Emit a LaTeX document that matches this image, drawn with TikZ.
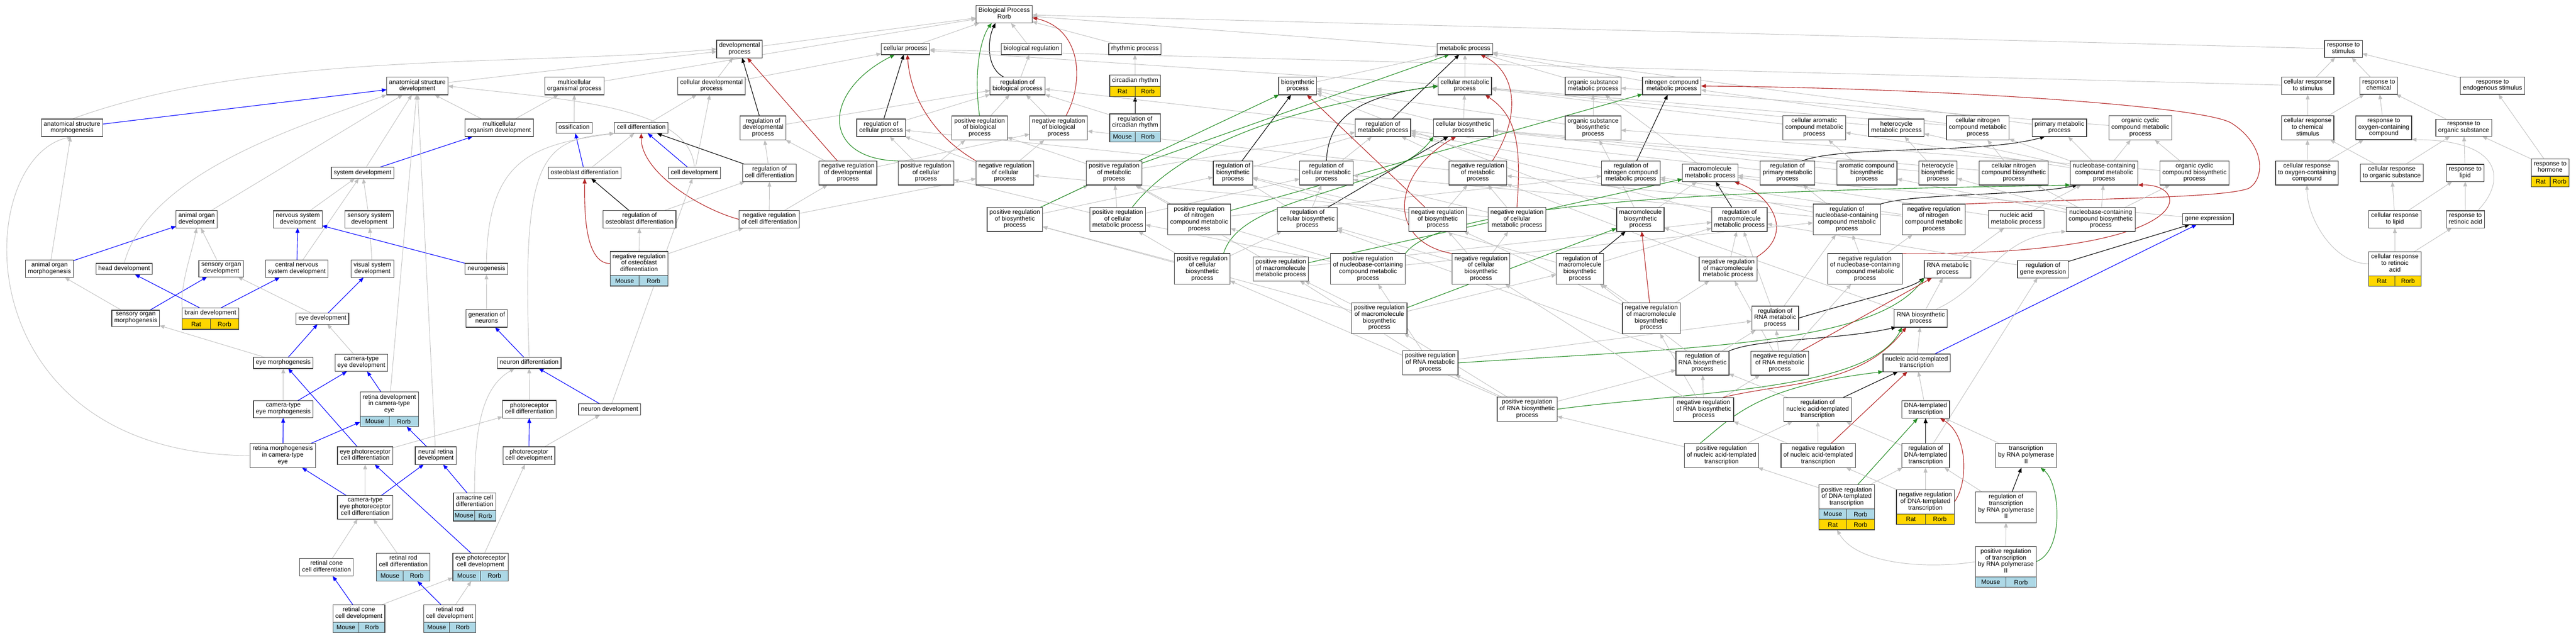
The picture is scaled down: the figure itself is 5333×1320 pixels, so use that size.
\documentclass[tikz,border=0pt]{standalone}
\usepackage{fontspec}
\setmainfont{Liberation Sans}
\usetikzlibrary{arrows.meta,calc,fit}
\pgfdeclarelayer{edges}
\pgfsetlayers{edges,main}
\definecolor{isagray}{RGB}{191,191,191}
\definecolor{partblue}{RGB}{0,0,255}
\definecolor{negred}{RGB}{178,34,34}
\definecolor{posgreen}{RGB}{34,139,34}
\definecolor{ratgold}{RGB}{255,215,0}
\definecolor{mouseblue}{RGB}{173,216,230}
\newcommand{\termfont}{\fontsize{13}{13.5}\selectfont}
\tikzset{
    term box/.style={rectangle, draw=black!75, line width=1.3pt, fill=white, align=center,
        inner xsep=5pt, inner ysep=4.75pt, outer sep=0pt, font=\termfont,
        execute at begin node=\strut, execute at end node=\strut},
    species cell/.style={draw=black!75, line width=1.3pt},
    species text/.style={font=\termfont, inner sep=0pt},
    is a/.style={->, draw=isagray, line width=1pt},
    part of/.style={->, draw=partblue, line width=1.2pt},
    regulates/.style={->, draw=black, line width=1.2pt},
    neg regulates/.style={->, draw=negred, line width=1.2pt},
    pos regulates/.style={->, draw=posgreen, line width=1.2pt}
}
% species row under a term: node, colour, left, right, row
\newcommand{\tagrow}[5]{%
    \draw[species cell, fill=#2] ($(#1.south west)+(0,{(#5-1)*21.5})$) rectangle ($(#1.south)+(0,{#5*21.5})$);
    \draw[species cell, fill=#2] ($(#1.south)+(0,{(#5-1)*21.5})$) rectangle ($(#1.south east)+(0,{#5*21.5})$);
    \node[species text] (#1-l#5) at ($(#1.south west)!0.5!(#1.south)+(0,{(#5-0.5)*21.5})$) {#3};
    \node[species text] (#1-r#5) at ($(#1.south)!0.5!(#1.south east)+(0,{(#5-0.5)*21.5})$) {#4};
    \coordinate (#1-end) at ($(#1.south east)+(0,{#5*21.5})$);
    \node[fit=(#1)(#1-end), inner sep=0pt] (#1-all) {};
}
\begin{document}
\begin{tikzpicture}[x=1pt, y=-1pt, >={Triangle[length=10pt,width=8pt]}]
\useasboundingbox (0,0) rectangle (5333,1320);
\begin{scope}[every node/.style={term box}]
\node (bp) at (2079,29.5) {Biological Process\\Rorb};
\node (devproc) at (1531,101.5) {developmental\\process};
\node (cellproc) at (1874.5,101.5) {cellular process};
\node (bioreg) at (2135,101.5) {biological regulation};
\node (rhythm) at (2349.5,101.5) {rhythmic process};
\node (metproc) at (3033,101.5) {metabolic process};
\node (respstim) at (4851.5,101.5) {response to\\stimulus};

\node (ASD) at (864,178) {anatomical structure\\development};
\node (multiorgproc) at (1189,178) {multicellular\\organismal process};
\node (celldevproc) at (1473,178) {cellular developmental\\process};
\node (regbioproc) at (2106.5,178) {regulation of\\biological process};
\node (circ) at (2350,167) {circadian rhythm};
\node (biosyn) at (2686.5,178) {biosynthetic\\process};
\node (cellmet) at (3032.5,178) {cellular metabolic\\process};
\node (orgsubmet) at (3298,178) {organic substance\\metabolic process};
\node (nitromet) at (3461,178) {nitrogen compound\\metabolic process};
\node (cellrespstim) at (4777.5,177.5) {cellular response\\to stimulus};
\node (respchem) at (4924.5,177.5) {response to\\chemical};
\node (respendo) at (5160,177.5) {response to\\endogenous stimulus};

\node (ASM) at (149,264.5) {anatomical structure\\morphogenesis};
\node (multidev) at (1033.5,264.5) {multicellular\\organism development};
\node (ossif) at (1188.5,264.5) {ossification};
\node (celldiff) at (1327.5,264.5) {cell differentiation};
\node (regdevproc) at (1579.5,265) {regulation of\\developmental\\process};
\node (regcellproc) at (1824,264.5) {regulation of\\cellular process};
\node (posregbioproc) at (2028,265) {positive regulation\\of biological\\process};
\node (negregbioproc) at (2191.5,265) {negative regulation\\of biological\\process};
\node (regcirc) at (2350,254) {regulation of\\circadian rhythm};
\node (regmet) at (2863,264.5) {regulation of\\metabolic process};
\node (cellbiosyn) at (3029.5,264.5) {cellular biosynthetic\\process};
\node (orgsubbiosyn) at (3298,265) {organic substance\\biosynthetic\\process};
\node (cellarom) at (3756,264.5) {cellular aromatic\\compound metabolic\\process};
\node (hetmet) at (3926,264.5) {heterocycle\\metabolic process};
\node (cellnitro) at (4094.5,264.5) {cellular nitrogen\\compound metabolic\\process};
\node (primmet) at (4263.5,264.5) {primary metabolic\\process};
\node (orgcyc) at (4431,264.5) {organic cyclic\\compound metabolic\\process};
\node (cellrespchem) at (4777.5,264.5) {cellular response\\to chemical\\stimulus};
\node (respoxy) at (4935,264.5) {response to\\oxygen-containing\\compound};
\node (resporg) at (5100.5,264.5) {response to\\organic substance};

\node (sysdev) at (750.5,358) {system development};
\node (osteodiff) at (1210.5,358) {osteoblast differentiation};
\node (celldev) at (1437.5,358) {cell development};
\node (regcelldiff) at (1593,358) {regulation of\\cell differentiation};
\node (negregdevproc) at (1755.5,358) {negative regulation\\of developmental\\process};
\node (posregcellproc) at (1917,358) {positive regulation\\of cellular\\process};
\node (negregcellproc) at (2080.5,358) {negative regulation\\of cellular\\process};
\node (posregmet) at (2306.5,358) {positive regulation\\of metabolic\\process};
\node (regbiosyn) at (2552.5,358) {regulation of\\biosynthetic\\process};
\node (regcellmet) at (2746,358) {regulation of\\cellular metabolic\\process};
\node (negregmet) at (3059.5,358) {negative regulation\\of metabolic\\process};
\node (regnitro) at (3376.5,358) {regulation of\\nitrogen compound\\metabolic process};
\node (macromet) at (3540.5,358) {macromolecule\\metabolic process};
\node (regprim) at (3700.5,358) {regulation of\\primary metabolic\\process};
\node (aromhbiosyn) at (3865,358) {aromatic compound\\biosynthetic\\process};
\node (hetbiosyn) at (4012,358) {heterocycle\\biosynthetic\\process};
\node (cellnitrobiosyn) at (4169,358) {cellular nitrogen\\compound biosynthetic\\process};
\node (nucleomet) at (4356,358) {nucleobase-containing\\compound metabolic\\process};
\node (orgcycbiosyn) at (4543,358) {organic cyclic\\compound biosynthetic\\process};
\node (cellrespoxy) at (4776,358) {cellular response\\to oxygen-containing\\compound};
\node (cellresporg) at (4951.5,358) {cellular response\\to organic substance};
\node (resplipid) at (5103.5,358) {response to\\lipid};
\node (resphormone) at (5279.5,347) {response to\\hormone};

\node (aod) at (407,454) {animal organ\\development};
\node (nsd) at (616.5,454) {nervous system\\development};
\node (ssd) at (764.5,454) {sensory system\\development};
\node (regosteo) at (1324,454) {regulation of\\osteoblast differentiation};
\node (negregcelldiff) at (1592.5,454) {negative regulation\\of cell differentiation};
\node (posregbiosyn) at (2101,454) {positive regulation\\of biosynthetic\\process};
\node (posregcellmet) at (2314,454) {positive regulation\\of cellular\\metabolic process};
\node (posregnitro) at (2482.5,454) {positive regulation\\of nitrogen\\compound metabolic\\process};
\node (regcellbiosyn) at (2706.5,454) {regulation of\\cellular biosynthetic\\process};
\node (negregbiosyn) at (2976.5,454) {negative regulation\\of biosynthetic\\process};
\node (negregcellmet) at (3140.5,454) {negative regulation\\of cellular\\metabolic process};
\node (macrobiosyn) at (3396,454) {macromolecule\\biosynthetic\\process};
\node (regmacromet) at (3601,454) {regulation of\\macromolecule\\metabolic process};
\node (regnucleo) at (3823.5,454) {regulation of\\nucleobase-containing\\compound metabolic\\process};
\node (negregnitro) at (4003.5,454) {negative regulation\\of nitrogen\\compound metabolic\\process};
\node (nucacidmet) at (4174,454) {nucleic acid\\metabolic process};
\node (nucleobiosyn) at (4349,454) {nucleobase-containing\\compound biosynthetic\\process};
\node (geneexp) at (4571,453.5) {gene expression};
\node (cellresplipid) at (4958,454) {cellular response\\to lipid};
\node (respretin) at (5104,454) {response to\\retinoic acid};

\node (aom) at (102.5,556) {animal organ\\morphogenesis};
\node (headdev) at (257,556.5) {head development};
\node (sod) at (458,556) {sensory organ\\development};
\node (cnsd) at (614.5,556) {central nervous\\system development};
\node (vsd) at (771,556) {visual system\\development};
\node (neurogen) at (1007,556.5) {neurogenesis};
\node (negregosteo) at (1323,545.5) {negative regulation\\of osteoblast\\differentiation};
\node (posregcellbiosyn) at (2489,556.5) {positive regulation\\of cellular\\biosynthetic\\process};
\node (posregmacromet) at (2651.5,556.5) {positive regulation\\of macromolecule\\metabolic process};
\node (posregnucleo) at (2832,556.5) {positive regulation\\of nucleobase-containing\\compound metabolic\\process};
\node (negregcellbiosyn) at (3066,556.5) {negative regulation\\of cellular\\biosynthetic\\process};
\node (regmacrobiosyn) at (3271,556.5) {regulation of\\macromolecule\\biosynthetic\\process};
\node (negregmacromet) at (3577.5,556.5) {negative regulation\\of macromolecule\\metabolic process};
\node (negregnucleo) at (3861,556.5) {negative regulation\\of nucleobase-containing\\compound metabolic\\process};
\node (RNAmet) at (4032,557) {RNA metabolic\\process};
\node (reggeneexp) at (4229.5,557) {regulation of\\gene expression};
\node (cellrespretin) at (4958,546) {cellular response\\to retinoic\\acid};

\node (som) at (281,659) {sensory organ\\morphogenesis};
\node (brain) at (435.5,648.5) {brain development};
\node (eyedev) at (667.5,659.5) {eye development};
\node (genneur) at (1007.5,659) {generation of\\neurons};
\node (posregmacrobiosyn) at (2855.5,658.5) {positive regulation\\of macromolecule\\biosynthetic\\process};
\node (negregmacrobiosyn) at (3418.5,658.5) {negative regulation\\of macromolecule\\biosynthetic\\process};
\node (regRNAmet) at (3675,658.5) {regulation of\\RNA metabolic\\process};
\node (RNAbiosyn) at (3976.5,659) {RNA biosynthetic\\process};

\node (eyemorph) at (586.5,751) {eye morphogenesis};
\node (cteyedev) at (748,751) {camera-type\\eye development};
\node (neurdiff) at (1095.5,751) {neuron differentiation};
\node (posregRNAmet) at (2961,751) {positive regulation\\of RNA metabolic\\process};
\node (regRNAbiosyn) at (3524.5,751.5) {regulation of\\RNA biosynthetic\\process};
\node (negregRNAmet) at (3684.5,751.5) {negative regulation\\of RNA metabolic\\process};
\node (nucacidtrans) at (3968,751) {nucleic acid-templated\\transcription};

\node (retdev) at (806,836.5) {retina development\\in camera-type\\eye};
\node (cteyemorph) at (586.5,847) {camera-type\\eye morphogenesis};
\node (photodiff) at (1096,847) {photoreceptor\\cell differentiation};
\node (neurdev) at (1262,847.5) {neuron development};
\node (posregRNAbiosyn) at (3161.5,847) {positive regulation\\of RNA biosynthetic\\process};
\node (negregRNAbiosyn) at (3527,847.5) {negative regulation\\of RNA biosynthetic\\process};
\node (regnucacid) at (3763,847.5) {regulation of\\nucleic acid-templated\\transcription};
\node (DNAtrans) at (3986.5,847.5) {DNA-templated\\transcription};

\node (retmorph) at (585.5,943) {retina morphogenesis\\in camera-type\\eye};
\node (eyephotodiff) at (756,943) {eye photoreceptor\\cell differentiation};
\node (neuralret) at (902,943) {neural retina\\development};
\node (photodev) at (1095,943) {photoreceptor\\cell development};
\node (posregnucacid) at (3564,943) {positive regulation\\of nucleic acid-templated\\transcription};
\node (negregnucacid) at (3764,943) {negative regulation\\of nucleic acid-templated\\transcription};
\node (regDNAtrans) at (3986.5,943) {regulation of\\DNA-templated\\transcription};
\node (transpol) at (4194.5,943) {transcription\\by RNA polymerase\\II};

\node (amacrine) at (982.5,1038.5) {amacrine cell\\differentiation};
\node (cteyephotodiff) at (756,1050) {camera-type\\eye photoreceptor\\cell differentiation};
\node (posregDNAtrans) at (3823,1028.5) {positive regulation\\of DNA-templated\\transcription};
\node (negregDNAtrans) at (3986,1039) {negative regulation\\of DNA-templated\\transcription};
\node (regtranspol) at (4153,1050) {regulation of\\transcription\\by RNA polymerase\\II};

\node (rconediff) at (676,1174) {retinal cone\\cell differentiation};
\node (rroddiff) at (835,1163) {retinal rod\\cell differentiation};
\node (eyephotodev) at (995,1163) {eye photoreceptor\\cell development};
\node (posregtranspol) at (4152.5,1162.5) {positive regulation\\of transcription\\by RNA polymerase\\II};

\node (rconedev) at (743,1269.5) {retinal cone\\cell development};
\node (rroddev) at (931,1269.5) {retinal rod\\cell development};
\end{scope}

\tagrow{brain}{ratgold}{Rat}{Rorb}{1}
\tagrow{circ}{ratgold}{Rat}{Rorb}{1}
\tagrow{regcirc}{mouseblue}{Mouse}{Rorb}{1}
\tagrow{negregosteo}{mouseblue}{Mouse}{Rorb}{1}
\tagrow{resphormone}{ratgold}{Rat}{Rorb}{1}
\tagrow{cellrespretin}{ratgold}{Rat}{Rorb}{1}
\tagrow{retdev}{mouseblue}{Mouse}{Rorb}{1}
\tagrow{amacrine}{mouseblue}{Mouse}{Rorb}{1}
\tagrow{posregDNAtrans}{mouseblue}{Mouse}{Rorb}{1}
\tagrow{posregDNAtrans}{ratgold}{Rat}{Rorb}{2}
\tagrow{negregDNAtrans}{ratgold}{Rat}{Rorb}{1}
\tagrow{rroddiff}{mouseblue}{Mouse}{Rorb}{1}
\tagrow{eyephotodev}{mouseblue}{Mouse}{Rorb}{1}
\tagrow{posregtranspol}{mouseblue}{Mouse}{Rorb}{1}
\tagrow{rconedev}{mouseblue}{Mouse}{Rorb}{1}
\tagrow{rroddev}{mouseblue}{Mouse}{Rorb}{1}

\begin{pgfonlayer}{edges}
% upper levels
\path (devproc) edge[is a] (bp);
\path (cellproc) edge[is a] (bp);
\path (bioreg) edge[is a] (bp);
\path (rhythm) edge[is a] (bp);
\path (metproc) edge[is a] (bp);
\path (respstim) edge[is a] (bp);
\path (multiorgproc) edge[is a] (bp);
\path (ASD) edge[is a] (devproc);
\path (celldevproc) edge[is a] (devproc) edge[is a] (cellproc);
\path (regbioproc) edge[is a] (bioreg);
\draw[regulates] ($(regbioproc.north)+(-28,0)$) .. controls (2040,140) and (2045,80) .. ($(bp.south)+(-18,0)$);
\path (circ) edge[is a] (rhythm);
\path (biosyn) edge[is a] (metproc);
\path (cellmet) edge[is a] (metproc) edge[is a] (cellproc);
\path (orgsubmet) edge[is a] (metproc);
\path (nitromet) edge[is a] (metproc);
\path (cellrespstim) edge[is a] (respstim) edge[is a] (cellproc);
\path (respchem) edge[is a] (respstim);
\path (respendo) edge[is a] (respstim);

\path (ASM) edge[part of] (ASD);
\draw[is a] (ASM.north) .. controls (539,104) and (1071,138) .. (devproc.west);
\path (multidev) edge[is a] (ASD) edge[is a] (multiorgproc);
\path (ossif) edge[is a] (multiorgproc);
\path (celldiff) edge[is a] (celldevproc);
\path (regdevproc) edge[is a] (regbioproc) edge[regulates] (devproc);
\path (regcellproc) edge[is a] (regbioproc) edge[regulates] (cellproc);
\path (posregbioproc) edge[is a] (regbioproc);
\draw[pos regulates] (posregbioproc.north) .. controls (2015,150) and (2030,80) .. ($(bp.south)+(-26,0)$);
\path (negregbioproc) edge[is a] (regbioproc);
\draw[neg regulates] ($(negregbioproc.north)+(15,0)$) .. controls (2245,170) and (2240,60) .. ($(bp.east)+(0,7)$);
\path (regcirc) edge[is a] (regbioproc) edge[regulates] (circ-all);
\path (regmet) edge[is a] (regbioproc) edge[regulates] (metproc);
\path (cellbiosyn) edge[is a] (cellmet) edge[is a] (biosyn);
\path (orgsubbiosyn) edge[is a] (orgsubmet) edge[is a] (biosyn);
\path (cellarom) edge[is a] (cellmet);
\path (hetmet) edge[is a] (cellmet);
\path (cellnitro) edge[is a] (cellmet) edge[is a] (nitromet);
\path (primmet) edge[is a] (metproc);
\path (orgcyc) edge[is a] (orgsubmet);
\path (cellrespchem) edge[is a] (cellrespstim) edge[is a] (respchem);
\path (respoxy) edge[is a] (respchem);
\path (resporg) edge[is a] (respchem);

\path (sysdev) edge[is a] (ASD) edge[part of] (multidev);
\path (osteodiff) edge[is a] (celldiff) edge[part of] (ossif);
\path (celldev) edge[is a] (celldevproc) edge[part of] (celldiff);
\draw[is a] (celldev.north) .. controls (1430,215) and (1150,205) .. (ASD.east);
\path (regcelldiff) edge[is a] (regdevproc) edge[regulates] (celldiff);
\path (negregdevproc) edge[is a] (regdevproc) edge[is a] (negregbioproc) edge[neg regulates] (devproc);
\path (posregcellproc) edge[is a] (regcellproc) edge[is a] (posregbioproc);
\draw[pos regulates] (posregcellproc.north west) .. controls (1700,330) and (1700,190) .. ($(cellproc.south)+(-22,0)$);
\path (negregcellproc) edge[is a] (regcellproc) edge[is a] (negregbioproc);
\draw[neg regulates] (negregcellproc.north west) .. controls (1930,280) and (1885,200) .. ($(cellproc.south)+(4,0)$);
\path (posregmet) edge[is a] (regmet) edge[is a] (posregbioproc) edge[pos regulates] (metproc);
\path (regbiosyn) edge[is a] (regmet) edge[regulates] (biosyn);
\path (regcellmet) edge[is a] (regmet) edge[is a] (regcellproc);
\draw[regulates] (regcellmet.north) .. controls (2750,250) and (2800,200) .. (cellmet.west);
\path (negregmet) edge[is a] (regmet) edge[is a] (negregbioproc);
\draw[neg regulates] ($(negregmet.north)+(30,0)$) .. controls (3150,240) and (3140,150) .. ($(metproc.south)+(32,0)$);
\path (regnitro) edge[is a] (regmet) edge[regulates] (nitromet);
\path (macromet) edge[is a] (orgsubmet);
\path (regprim) edge[is a] (regmet);
\draw[regulates] ($(regprim.north)+(30,0)$) .. controls (3820,300) and (4100,320) .. ($(primmet.south)+(-30,0)$);
\path (aromhbiosyn) edge[is a] (cellarom) edge[is a] (cellbiosyn);
\path (hetbiosyn) edge[is a] (hetmet) edge[is a] (cellbiosyn);
\path (cellnitrobiosyn) edge[is a] (cellnitro) edge[is a] (cellbiosyn);
\path (nucleomet) edge[is a] (hetmet) edge[is a] (cellarom) edge[is a] (cellnitro) edge[is a] (primmet) edge[is a] (orgcyc);
\path (orgcycbiosyn) edge[is a] (orgcyc) edge[is a] (orgsubbiosyn);
\path (cellrespoxy) edge[is a] (cellrespchem) edge[is a] (respoxy);
\path (cellresporg) edge[is a] (cellrespchem) edge[is a] (resporg);
\path (resplipid) edge[is a] (resporg);
\path (resphormone) edge[is a] (respendo) edge[is a] (resporg);

\path (aod) edge[is a] (ASD);
\path (nsd) edge[is a] (sysdev);
\path (ssd) edge[is a] (sysdev);
\path (regosteo) edge[is a] (regcelldiff) edge[regulates] (osteodiff);
\path (negregcelldiff) edge[is a] (regcelldiff) edge[is a] (negregdevproc) edge[is a] (negregcellproc);
\draw[neg regulates] (negregcelldiff.west) .. controls (1451,433) and (1327,357) .. (celldiff.south);
\path (posregbiosyn) edge[is a] (regbiosyn) edge[is a] (posregmet) edge[pos regulates] (biosyn);
\path (posregcellmet) edge[is a] (posregmet) edge[is a] (regcellmet) edge[is a] (posregcellproc);
\draw[pos regulates] ($(posregcellmet.north)+(30,0)$) .. controls (2420,330) and (2600,230) .. (cellmet.west);
\path (posregnitro) edge[is a] (posregmet) edge[is a] (regnitro) edge[pos regulates] (nitromet);
\path (regcellbiosyn) edge[is a] (regbiosyn) edge[is a] (regcellmet) edge[regulates] (cellbiosyn);
\path (negregbiosyn) edge[is a] (regbiosyn) edge[is a] (negregmet) edge[neg regulates] (biosyn);
\path (negregcellmet) edge[is a] (negregmet) edge[is a] (regcellmet) edge[is a] (negregcellproc);
\draw[neg regulates] (negregcellmet.north) .. controls (3150,300) and (3140,240) .. ($(cellmet.south)+(42,0)$);
\path (macrobiosyn) edge[is a] (macromet) edge[is a] (biosyn) edge[is a] (orgsubbiosyn);
\path (regmacromet) edge[is a] (regmet) edge[regulates] (macromet);
\path (regnucleo) edge[is a] (regcellmet) edge[is a] (regnitro) edge[is a] (regprim);
\draw[regulates] (regnucleo.north east) .. controls (3960,400) and (4200,405) .. ($(nucleomet.south west)+(15,0)$);
\path (negregnitro) edge[is a] (regnitro) edge[is a] (negregmet);
\draw[neg regulates] (negregnitro.north east) .. controls (4350,410) and (4600,410) .. (4655,390)
    .. controls (4690,370) and (4690,300) .. (4620,255) .. controls (4560,218) and (4000,182) .. (nitromet.east);
\path (nucacidmet) edge[is a] (nucleomet) edge[is a] (macromet);
\path (nucleobiosyn) edge[is a] (nucleomet) edge[is a] (hetbiosyn) edge[is a] (aromhbiosyn) edge[is a] (cellnitrobiosyn) edge[is a] (orgcycbiosyn);
\path (geneexp) edge[is a] (macromet);
\path (cellresplipid) edge[is a] (cellresporg) edge[is a] (resplipid);
\path (respretin) edge[is a] (resplipid);
\draw[is a] ($(respretin.north)+(25,0)$) .. controls (5185,380) and (5190,290) .. (respoxy.south east);

\path (aom) edge[is a] (ASM) edge[part of] (aod);
\draw[is a] (headdev.north) .. controls (307,358) and (618,262) .. (ASD.south west);
\path (sod) edge[is a] (aod);
\path (cnsd) edge[is a] (sysdev) edge[part of] (nsd);
\path (vsd) edge[is a] (ssd);
\path (negregosteo) edge[is a] (regosteo) edge[is a] (negregcelldiff);
\draw[neg regulates] (negregosteo.west) .. controls (1208,545) and (1210,425) .. (osteodiff.south);
\path (neurogen) edge[part of] (nsd);
\draw[is a] (neurogen.north) .. controls (1010,330) and (1100,300) .. (celldiff.south west);
\path (posregcellbiosyn) edge[is a] (posregbiosyn) edge[is a] (posregcellmet) edge[is a] (regcellbiosyn);
\draw[pos regulates] ($(posregcellbiosyn.north)+(44,0)$) .. controls (2570,400) and (2880,400) .. (cellbiosyn.south west);
\path (posregmacromet) edge[is a] (regmacromet) edge[is a] (posregmet) edge[pos regulates] (macromet);
\path (posregnucleo) edge[is a] (regnucleo) edge[is a] (posregcellmet) edge[is a] (posregnitro);
\draw[pos regulates] (posregnucleo.north east) .. controls (3000,400) and (3800,393) .. (nucleomet.south west);
\path (negregcellbiosyn) edge[is a] (negregbiosyn) edge[is a] (negregcellmet) edge[is a] (regcellbiosyn);
\draw[neg regulates] (negregcellbiosyn.north west) .. controls (2870,500) and (2880,360) .. ($(cellbiosyn.south)+(-15,0)$);
\path (regmacrobiosyn) edge[is a] (regmacromet) edge[is a] (regbiosyn) edge[regulates] (macrobiosyn);
\path (negregmacromet) edge[is a] (regmacromet) edge[is a] (negregmet);
\draw[neg regulates] (negregmacromet.north east) .. controls (3720,480) and (3660,400) .. ($(macromet.south)+(50,0)$);
\path (negregnucleo) edge[is a] (regnucleo) edge[is a] (negregnitro);
\draw[neg regulates] (negregnucleo.north east) .. controls (4560,530) and (4540,380) .. (nucleomet.south east);
\path (RNAmet) edge[is a] (nucacidmet);
\path (reggeneexp) edge[is a] (regmacromet) edge[regulates] (geneexp);
\path (cellrespretin) edge[is a] (cellresplipid) edge[is a] (respretin);
\draw[is a] (cellrespretin.west) .. controls (4830,546) and (4776,450) .. (cellrespoxy.south);

\path (som) edge[is a] (aom) edge[part of] (sod);
\path (brain) edge[part of] (headdev) edge[part of] (cnsd);
\draw[is a] (brain.north west) .. controls (373,587) and (398,521) .. (aod.south);
\path (eyedev) edge[is a] (sod) edge[part of] (vsd);
\path (genneur) edge[is a] (neurogen);
\path (posregmacrobiosyn) edge[is a] (posregbiosyn) edge[is a] (regmacrobiosyn) edge[is a] (posregmacromet) edge[pos regulates] (macrobiosyn);
\path (negregmacrobiosyn) edge[is a] (regmacrobiosyn) edge[is a] (negregmacromet) edge[is a] (negregbiosyn) edge[neg regulates] (macrobiosyn);
\path (regRNAmet) edge[is a] (regnucleo) edge[is a] (regmacromet);
\draw[regulates] (regRNAmet.east) .. controls (3850,620) and (3950,600) .. (RNAmet.south west);
\path (RNAbiosyn) edge[is a] (RNAmet) edge[is a] (macrobiosyn);
\draw[is a] ($(RNAbiosyn.north)+(30,0)$) .. controls (4120,590) and (4130,490) .. (nucleobiosyn.south west);

\path (eyemorph) edge[is a] (som) edge[part of] (eyedev);
\path (cteyedev) edge[is a] (eyedev);
\path (neurdiff) edge[part of] (genneur);
\draw[is a] (neurdiff.north) .. controls (1080,330) and (1120,290) .. (celldiff.south west);
\path (posregRNAmet) edge[is a] (posregnucleo) edge[is a] (regRNAmet) edge[is a] (posregmacromet);
\draw[pos regulates] (posregRNAmet.east) .. controls (3500,720) and (3880,715) .. (RNAmet.south west);
\path (regRNAbiosyn) edge[is a] (regRNAmet) edge[is a] (regmacrobiosyn) edge[is a] (regcellbiosyn);
\draw[regulates] (regRNAbiosyn.north east) .. controls (3640,700) and (3800,705) .. ($(RNAbiosyn.south west)+(4,0)$);
\path (negregRNAmet) edge[is a] (regRNAmet) edge[is a] (negregnucleo) edge[is a] (negregmacromet) edge[neg regulates] (RNAmet);
\path (nucacidtrans) edge[is a] (RNAbiosyn) edge[part of] (geneexp);

\path (retdev) edge[is a] (ASD) edge[part of] (cteyedev);
\path (cteyemorph) edge[is a] (eyemorph) edge[part of] (cteyedev);
\path (photodiff) edge[is a] (neurdiff);
\path (neurdev) edge[is a] (celldev) edge[part of] (neurdiff);
\path (posregRNAbiosyn) edge[is a] (regRNAbiosyn) edge[is a] (posregRNAmet) edge[is a] (posregmacrobiosyn) edge[is a] (posregcellbiosyn);
\draw[pos regulates] (posregRNAbiosyn.east) .. controls (3500,810) and (3870,810) .. ($(RNAbiosyn.south west)+(16,0)$);
\path (negregRNAbiosyn) edge[is a] (regRNAbiosyn) edge[is a] (negregmacrobiosyn) edge[is a] (negregcellbiosyn) edge[is a] (negregRNAmet);
\draw[neg regulates] ($(negregRNAbiosyn.north)+(40,0)$) .. controls (3700,790) and (3850,800) .. ($(RNAbiosyn.south)+(-30,0)$);
\path (regnucacid) edge[is a] (regRNAbiosyn) edge[regulates] (nucacidtrans);
\path (DNAtrans) edge[is a] (nucacidtrans);

\path (retmorph) edge[part of] (cteyemorph) edge[part of] (retdev-all);
\draw[is a] (retmorph.west) .. controls (-80,940) and (-60,330) .. (ASM.south);
\path (eyephotodiff) edge[is a] (photodiff) edge[part of] (eyemorph);
\path (neuralret) edge[is a] (ASD) edge[part of] (retdev-all);
\path (photodev) edge[is a] (neurdev) edge[part of] (photodiff);
\path (posregnucacid) edge[is a] (posregRNAbiosyn) edge[is a] (regnucacid);
\draw[pos regulates] ($(posregnucacid.north)+(-45,0)$) .. controls (3590,860) and (3640,800) .. (nucacidtrans.south west);
\path (negregnucacid) edge[is a] (regnucacid) edge[is a] (negregRNAbiosyn) edge[neg regulates] (nucacidtrans);
\path (regDNAtrans) edge[is a] (regnucacid) edge[is a] (reggeneexp) edge[regulates] (DNAtrans);
\path (transpol) edge[is a] (DNAtrans);

\path (amacrine) edge[part of] (neuralret);
\draw[is a] (amacrine.north) .. controls (982,880) and (1000,800) .. ($(neurdiff.south)+(-30,0)$);
\path (cteyephotodiff) edge[is a] (eyephotodiff) edge[part of] (retmorph) edge[part of] (neuralret);
\path (posregDNAtrans) edge[is a] (posregnucacid) edge[is a] (regDNAtrans) edge[pos regulates] (DNAtrans);
\path (negregDNAtrans) edge[is a] (negregnucacid) edge[is a] (regDNAtrans);
\draw[neg regulates] (negregDNAtrans.east) .. controls (4075,1000) and (4075,900) .. ($(DNAtrans.south)+(30,0)$);
\path (regtranspol) edge[is a] (regDNAtrans) edge[regulates] (transpol);

\path (rconediff) edge[is a] (cteyephotodiff);
\path (rroddiff) edge[is a] (cteyephotodiff);
\path (eyephotodev) edge[is a] (photodev) edge[part of] (eyephotodiff);
\path (posregtranspol) edge[is a] (regtranspol);
\draw[is a] (posregtranspol.west) .. controls (4002,1177) and (3847,1172) .. ($(posregDNAtrans-all.south)+(-20,0)$);
\draw[pos regulates] (posregtranspol.east) .. controls (4275,1140) and (4265,1000) .. ($(transpol.south)+(30,0)$);
\path (rconedev) edge[is a] (eyephotodev-all) edge[part of] (rconediff);
\path (rroddev) edge[is a] (eyephotodev-all) edge[part of] (rroddiff-all);
\end{pgfonlayer}
\end{tikzpicture}
\end{document}
